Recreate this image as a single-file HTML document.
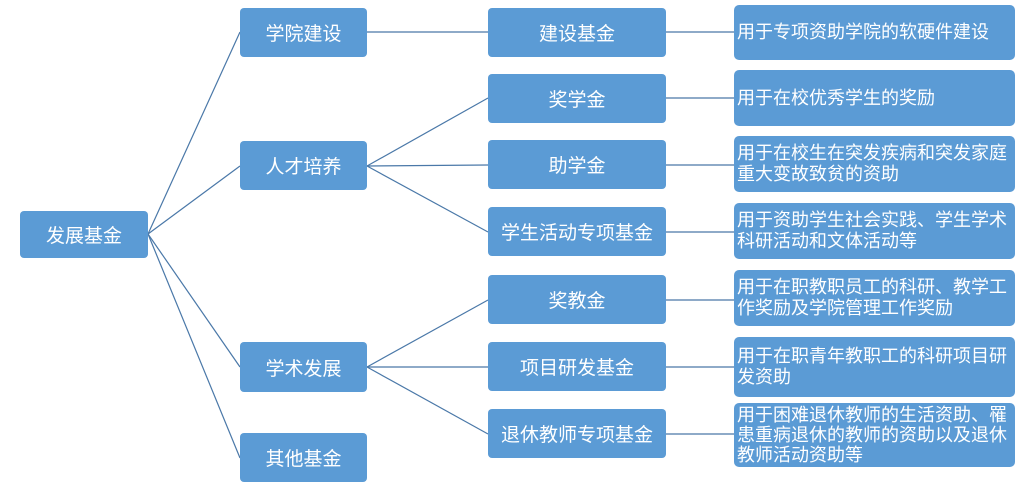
<!DOCTYPE html>
<html><head><meta charset="utf-8"><style>
body{margin:0;width:1024px;height:485px;background:#fff;position:relative;overflow:hidden;font-family:"Liberation Sans","Noto Sans CJK SC",sans-serif}
.b{position:absolute;background:#5b9bd5;color:#fff;border-radius:4px;display:flex;align-items:center;justify-content:center;font-size:19px}
.d{position:absolute;background:#5b9bd5;color:#fff;border-radius:5px;font-size:18px;line-height:21px;padding:0 3px;box-sizing:border-box;display:flex;align-items:center}
svg{position:absolute;left:0;top:0}
</style></head><body>
<svg width="1024" height="485"><g stroke="#4a78a8" stroke-width="1.2" fill="none">
<line x1="148" y1="234" x2="240" y2="32"/>
<line x1="148" y1="234" x2="240" y2="166"/>
<line x1="148" y1="234" x2="240" y2="367"/>
<line x1="148" y1="234" x2="240" y2="458"/>
<line x1="367" y1="32" x2="488" y2="32"/>
<line x1="367" y1="166" x2="488" y2="98"/>
<line x1="367" y1="166" x2="488" y2="165"/>
<line x1="367" y1="166" x2="488" y2="232"/>
<line x1="367" y1="367" x2="488" y2="300"/>
<line x1="367" y1="367" x2="488" y2="367"/>
<line x1="367" y1="367" x2="488" y2="434"/>
<line x1="666" y1="32" x2="737" y2="32"/>
<line x1="666" y1="98" x2="737" y2="98"/>
<line x1="666" y1="165" x2="737" y2="165"/>
<line x1="666" y1="232" x2="737" y2="232"/>
<line x1="666" y1="300" x2="737" y2="300"/>
<line x1="666" y1="367" x2="737" y2="367"/>
<line x1="666" y1="434" x2="737" y2="434"/>
</g></svg>
<div class="b" style="left:20px;top:211px;width:128px;height:47px">发展基金</div>
<div class="b" style="left:240px;top:8px;width:127px;height:49px">学院建设</div>
<div class="b" style="left:240px;top:141px;width:127px;height:49px">人才培养</div>
<div class="b" style="left:240px;top:342px;width:127px;height:50px">学术发展</div>
<div class="b" style="left:240px;top:433px;width:127px;height:49px">其他基金</div>
<div class="b" style="left:488px;top:8px;width:178px;height:49px">建设基金</div>
<div class="b" style="left:488px;top:74px;width:178px;height:49px">奖学金</div>
<div class="b" style="left:488px;top:140px;width:178px;height:49px">助学金</div>
<div class="b" style="left:488px;top:207px;width:178px;height:49px">学生活动专项基金</div>
<div class="b" style="left:488px;top:275px;width:178px;height:49px">奖教金</div>
<div class="b" style="left:488px;top:342px;width:178px;height:49px">项目研发基金</div>
<div class="b" style="left:488px;top:409px;width:178px;height:49px">退休教师专项基金</div>
<div class="d" style="left:734px;top:5px;width:281px;height:55px">用于专项资助学院的软硬件建设</div>
<div class="d" style="left:734px;top:70px;width:281px;height:56px">用于在校优秀学生的奖励</div>
<div class="d" style="left:734px;top:136px;width:281px;height:56px">用于在校生在突发疾病和突发家庭重大变故致贫的资助</div>
<div class="d" style="left:734px;top:203px;width:281px;height:56px">用于资助学生社会实践、学生学术科研活动和文体活动等</div>
<div class="d" style="left:734px;top:270px;width:281px;height:56px">用于在职教职员工的科研、教学工作奖励及学院管理工作奖励</div>
<div class="d" style="left:734px;top:337px;width:281px;height:60px">用于在职青年教职工的科研项目研发资助</div>
<div class="d" style="left:734px;top:403px;width:281px;height:64px;line-height:20px">用于困难退休教师的生活资助、罹患重病退休的教师的资助以及退休教师活动资助等</div>
</body></html>
